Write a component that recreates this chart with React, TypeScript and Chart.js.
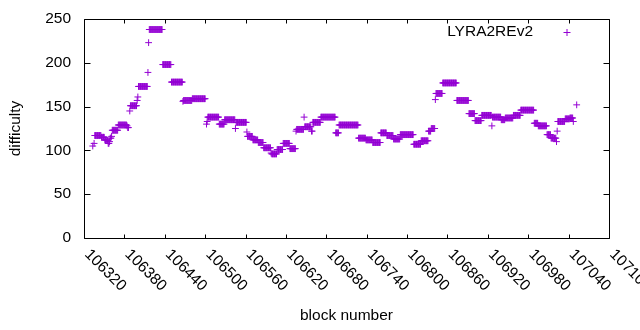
import React, { useEffect, useRef } from "react";
import { Chart, registerables } from "chart.js";

Chart.register(...registerables);

// Runs of constant difficulty: block range [start, end] and the difficulty
const blockStart = [
  106333, 106335, 106336, 106346, 106351, 106355, 106356, 106358, 106359, 106361,
  106362, 106371, 106384, 106385, 106388, 106389, 106399, 106400, 106401, 106415,
  106416, 106417, 106437, 106450, 106467, 106468, 106481, 106502, 106503, 106504,
  106521, 106529, 106545, 106546, 106562, 106563, 106571, 106579, 106587, 106598,
  106599, 106607, 106616, 106626, 106635, 106636, 106647, 106648, 106658, 106660,
  106672, 106694, 106699, 106728, 106739, 106749, 106761, 106770, 106780, 106790,
  106810, 106821, 106832, 106836, 106842, 106843, 106853, 106874, 106892, 106901,
  106911, 106926, 106927, 106940, 106946, 106958, 106969, 106989, 106995, 107008,
  107014, 107022, 107023, 107024, 107035, 107042, 107047, 107052,
];
const blockEnd = [
  106333, 106335, 106345, 106350, 106354, 106355, 106357, 106358, 106360, 106361,
  106370, 106383, 106384, 106386, 106388, 106398, 106399, 106400, 106414, 106415,
  106416, 106436, 106449, 106466, 106467, 106480, 106500, 106502, 106503, 106520,
  106528, 106544, 106545, 106561, 106562, 106570, 106578, 106586, 106597, 106598,
  106606, 106615, 106625, 106634, 106635, 106646, 106647, 106657, 106659, 106671,
  106693, 106698, 106727, 106738, 106748, 106760, 106769, 106779, 106789, 106809,
  106820, 106831, 106835, 106841, 106842, 106852, 106873, 106891, 106900, 106910,
  106925, 106926, 106939, 106945, 106957, 106968, 106988, 106994, 107007, 107013,
  107021, 107022, 107023, 107034, 107041, 107046, 107047, 107052,
];
const difficulty = [
  105, 108, 117, 115, 112, 111, 108, 110, 114, 116,
  123, 129, 128, 126, 145, 151, 157, 161, 173, 189,
  223, 238, 198, 178, 156, 157, 159, 130, 133, 138,
  130, 135, 125, 132, 121, 116, 112, 109, 103, 97,
  96, 101, 108, 102, 122, 124, 138, 127, 122, 132,
  138, 120, 129, 114, 112, 109, 120, 117, 113, 118,
  107, 111, 122, 125, 158, 165, 177, 157, 142, 134,
  140, 128, 138, 135, 137, 140, 146, 131, 128, 118,
  114, 110, 122, 133, 136, 137, 133, 152,
];

const xMin = 106320;
const xMax = 107100;
const xStep = 60;
const yMin = 0;
const yMax = 250;
const yStep = 50;

const seriesName = "LYRA2REv2";
const xTitle = "block number";
const yTitle = "difficulty";

const COLOR = "#9400D3";
const FONT = "'Liberation Sans', Arial, sans-serif";
const FSIZE = 15.5;

export default function App() {
  const ref = useRef<HTMLCanvasElement>(null);

  useEffect(() => {
    document.body.style.margin = "0";
    const canvas = ref.current;
    if (!canvas) return;

    const points: { x: number; y: number }[] = [];
    for (let i = 0; i < blockStart.length; i++) {
      for (let b = blockStart[i]; b <= blockEnd[i]; b++) {
        points.push({ x: b, y: difficulty[i] });
      }
    }

    const framePlugin = {
      id: "gnuframe",
      afterDraw(chart: any) {
        const { ctx, chartArea: a, scales } = chart;
        const xs = scales.x;
        const ys = scales.y;
        const L = Math.round(a.left) + 0.5;
        const R = Math.round(a.right) + 0.5;
        const T = Math.round(a.top) + 0.5;
        const B = Math.round(a.bottom) + 0.5;
        ctx.save();
        ctx.strokeStyle = "#000";
        ctx.lineWidth = 1;
        ctx.beginPath();
        ctx.rect(L, T, R - L, B - T);
        // x ticks (bottom and mirrored top)
        xs.ticks.forEach((t: any) => {
          const px = Math.round(xs.getPixelForValue(t.value)) + 0.5;
          ctx.moveTo(px, B);
          ctx.lineTo(px, B - 4);
          ctx.moveTo(px, T);
          ctx.lineTo(px, T + 4);
        });
        // y ticks (left and mirrored right)
        ys.ticks.forEach((t: any) => {
          const py = Math.round(ys.getPixelForValue(t.value)) + 0.5;
          ctx.moveTo(L, py);
          ctx.lineTo(L + 6, py);
          ctx.moveTo(R, py);
          ctx.lineTo(R - 6, py);
        });
        ctx.stroke();

        // rotated x tick labels
        ctx.fillStyle = "#000";
        ctx.font = `${FSIZE}px ${FONT}`;
        ctx.textAlign = "left";
        ctx.textBaseline = "middle";
        xs.ticks.forEach((t: any) => {
          const px = xs.getPixelForValue(t.value);
          ctx.save();
          ctx.translate(px + 3, a.bottom + 14);
          ctx.rotate(Math.PI / 4);
          ctx.fillText(String(t.value), 0, 0);
          ctx.restore();
        });

        // key
        ctx.textAlign = "right";
        ctx.fillText(seriesName, 533, 32);
        ctx.strokeStyle = COLOR;
        ctx.beginPath();
        ctx.moveTo(563.5, 32.5);
        ctx.lineTo(570.5, 32.5);
        ctx.moveTo(567, 29);
        ctx.lineTo(567, 36);
        ctx.stroke();
        ctx.restore();
      },
    };

    Chart.defaults.font.family = FONT;
    Chart.defaults.font.size = FSIZE;
    Chart.defaults.color = "#000";

    const chart = new Chart(canvas, {
      type: "scatter",
      data: {
        datasets: [
          {
            label: seriesName,
            data: points,
            pointStyle: "cross",
            pointRadius: 3.4,
            pointHoverRadius: 3.4,
            borderColor: COLOR,
            backgroundColor: COLOR,
            borderWidth: 1,
          },
        ],
      },
      options: {
        responsive: false,
        animation: false,
        events: [],
        layout: { padding: { top: 19, right: 31, left: 0, bottom: 0 } },
        plugins: {
          legend: { display: false },
          tooltip: { enabled: false },
        },
        scales: {
          x: {
            type: "linear",
            min: xMin,
            max: xMax,
            ticks: { stepSize: xStep, display: false },
            grid: { display: false, drawTicks: false },
            border: { display: false },
            title: {
              display: true,
              text: xTitle,
              color: "#000",
              font: { size: FSIZE, family: FONT },
              padding: { top: 0, bottom: 5 },
            },
            afterFit: (s: any) => {
              s.height = 92;
              s.paddingLeft = 0;
              s.paddingRight = 0;
            },
          },
          y: {
            min: yMin,
            max: yMax,
            ticks: {
              stepSize: yStep,
              padding: 13,
              color: "#000",
              font: { size: FSIZE, family: FONT },
            },
            grid: { display: false, drawTicks: false },
            border: { display: false },
            title: {
              display: true,
              text: yTitle,
              color: "#000",
              font: { size: FSIZE, family: FONT },
              padding: { top: 6, bottom: 0 },
            },
            afterFit: (s: any) => {
              s.width = 84;
              s.paddingTop = 0;
              s.paddingBottom = 0;
            },
          },
        },
      },
      plugins: [framePlugin],
    });

    return () => chart.destroy();
  }, []);

  return <canvas ref={ref} width={640} height={330} style={{ display: "block" }} />;
}
